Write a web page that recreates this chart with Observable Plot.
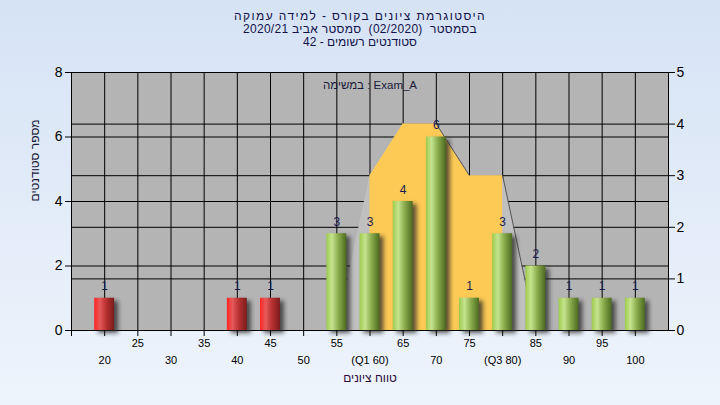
<!DOCTYPE html>
<html><head><meta charset="utf-8">
<script src="https://cdn.jsdelivr.net/npm/d3@7"></script>
<script src="https://cdn.jsdelivr.net/npm/@observablehq/plot@0.6"></script>
<style>
html,body{margin:0;padding:0;}
body{width:720px;height:405px;overflow:hidden;background:linear-gradient(#d6e3f5,#eef4fc);font-family:"Liberation Sans",Arial,sans-serif;}
#title{height:52px;box-sizing:border-box;padding-top:10px;text-align:center;direction:rtl;font-family:"Liberation Sans",Arial,sans-serif;font-size:12px;line-height:13px;color:#12124a;}
#title div{white-space:pre;}
#title div:nth-child(1){letter-spacing:1.4px;}
#title div:nth-child(2){letter-spacing:0.3px;}
#chart svg{display:block;}
</style></head><body>
<div id="title"></div>
<div id="chart"></div>
<script>
// ---- data ----
const titleLines = ["היסטוגרמת ציונים בקורס - למידה עמוקה", "בסמסטר  (02/2020)  סמסטר אביב 2020/21", "סטודנטים רשומים - 42"];
const examLabel = "במשימה : Exam_A";
const xTitle = "טווח ציונים";
const yTitle = "מספר סטודנטים";
const scores = [20, 40, 45, 55, 60, 65, 70, 75, 80, 85, 90, 95, 100];
const counts = [1, 1, 1, 3, 3, 4, 6, 1, 3, 2, 1, 1, 1];
const status = ["fail","fail","fail","pass","pass","pass","pass","pass","pass","pass","pass","pass","pass"];
const curveScores = [55, 60, 65, 70, 75, 80, 85];
const curveValues = [0, 3, 4, 4, 3, 3, 0]; // right axis units
const q1 = 60, q3 = 80;
const leftTicks = [0, 2, 4, 6, 8];
const rightTicks = [0, 1, 2, 3, 4, 5];
const xTickMarks = [15,20,25,30,35,40,45,50,55,60,65,70,75,80,85,90,95,100];
const xTicksUpper = [25, 35, 45, 55, 65, 75, 85, 95];
const xTicksLower = [20, 30, 40, 50, 60, 70, 80, 90, 100];
const xTickLabels = {60: "(Q1 60)", 80: "(Q3 80)"};

// ---- build ----
const titleEl = document.getElementById("title");
titleLines.forEach(t => { const d = document.createElement("div"); d.textContent = t; titleEl.appendChild(d); });
const k = leftTicks[leftTicks.length - 1] / rightTicks[rightTicks.length - 1];
const bars = scores.map((s, i) => ({score: s, count: counts[i], status: status[i]}));
const curve = curveScores.map((s, i) => ({score: s, v: curveValues[i] * k}));
const segs = curve.slice(1).map((d, i) => ({a: curve[i], b: d})).filter(p => p.b.v < p.a.v);
const halfW = 1.5;

const svg = Plot.plot({
  width: 720, height: 353,
  marginLeft: 71, marginRight: 52, marginTop: 20, marginBottom: 75,
  x: {domain: [15, 105], axis: null},
  y: {domain: [0, 8], axis: null},
  style: {background: "transparent", fontFamily: "'Liberation Sans', Arial, sans-serif", fontSize: "11px", color: "#000", overflow: "visible"},
  marks: [
    Plot.frame({fill: "#b4b4b4"}),
    Plot.gridX(xTicksLower.concat(xTicksUpper), {stroke: "#000", strokeOpacity: 1}),
    Plot.gridY(leftTicks.concat(rightTicks.map(t => t * k)), {stroke: "#000", strokeOpacity: 1}),
    Plot.areaY(curve, {x: "score", y: "v", fill: "#c0c0c0"}),
    Plot.areaY(curve.filter(d => d.score >= q1 && d.score <= q3), {x: "score", y: "v", fill: "#fdca55"}),
    Plot.link(segs, {x1: d => d.a.score, y1: d => d.a.v, x2: d => d.b.score, y2: d => d.b.v, stroke: "#555", strokeWidth: 1}),
    Plot.frame({stroke: "#000"}),
    Plot.rectY(bars, {x1: d => d.score - halfW, x2: d => d.score + halfW, y: "count", fill: "#2a2a2a", fillOpacity: 0.75, dx: 4, dy: 3, ariaDescription: "shadow"}),
    Plot.rectY(bars.filter(d => d.status === "fail"), {x1: d => d.score - halfW, x2: d => d.score + halfW, y: "count", fill: "url(#gRed)"}),
    Plot.rectY(bars.filter(d => d.status === "pass"), {x1: d => d.score - halfW, x2: d => d.score + halfW, y: "count", fill: "url(#gGreen)"}),
    Plot.text(bars, {x: "score", y: "count", text: d => String(d.count), dy: -8, lineAnchor: "bottom", fill: "#1a1a50", fontSize: 12}),
    Plot.text([examLabel], {frameAnchor: "top", dy: 8, lineAnchor: "top", text: d => d, fontSize: 11.5, fill: "#1a1a3a"}),
    Plot.axisY(leftTicks, {anchor: "left", tickSize: 6, tickPadding: 3, fontSize: 14, label: null}),
    Plot.axisY(rightTicks.map(t => t * k), {anchor: "right", tickSize: 6, tickPadding: 2, fontSize: 14, label: null, tickFormat: d => String(Math.round(d / k))}),
    Plot.axisX(xTickMarks, {tickSize: 6, tickFormat: () => "", label: null}),
    Plot.axisX(xTicksUpper, {tickSize: 0, tickPadding: 9, label: null, fontSize: 11}),
    Plot.axisX(xTicksLower, {tickSize: 0, tickPadding: 26, label: null, fontSize: 11, tickFormat: d => xTickLabels[d] ?? String(d)}),
    Plot.text([xTitle], {frameAnchor: "bottom", dy: 51, text: d => d, fontSize: 12, fill: "#2a0a3a"}),
    Plot.text([yTitle], {frameAnchor: "left", dx: -36, rotate: -90, text: d => d, fontSize: 12, fill: "#1a1a3a"})
  ]
});

const defs = d3.select(svg).insert("defs", ":first-child");
const gr = defs.append("linearGradient").attr("id", "gRed").attr("x1", 0).attr("x2", 1).attr("y1", 0).attr("y2", 0);
[["0%", "#ff2424"], ["28%", "#e65a5a"], ["60%", "#b83030"], ["100%", "#7a1c1c"]].forEach(([o, c]) => gr.append("stop").attr("offset", o).attr("stop-color", c));
const gg = defs.append("linearGradient").attr("id", "gGreen").attr("x1", 0).attr("x2", 1).attr("y1", 0).attr("y2", 0);
[["0%", "#9dcb4e"], ["28%", "#c6e38e"], ["60%", "#8aac4c"], ["100%", "#4c6a20"]].forEach(([o, c]) => gg.append("stop").attr("offset", o).attr("stop-color", c));
defs.append("filter").attr("id", "blur").attr("x", "-50%").attr("y", "-50%").attr("width", "200%").attr("height", "200%")
  .append("feGaussianBlur").attr("stdDeviation", 2.2);
d3.select(svg).select('g[aria-description="shadow"]').attr("filter", "url(#blur)");

document.getElementById("chart").appendChild(svg);
</script>
</body></html>
